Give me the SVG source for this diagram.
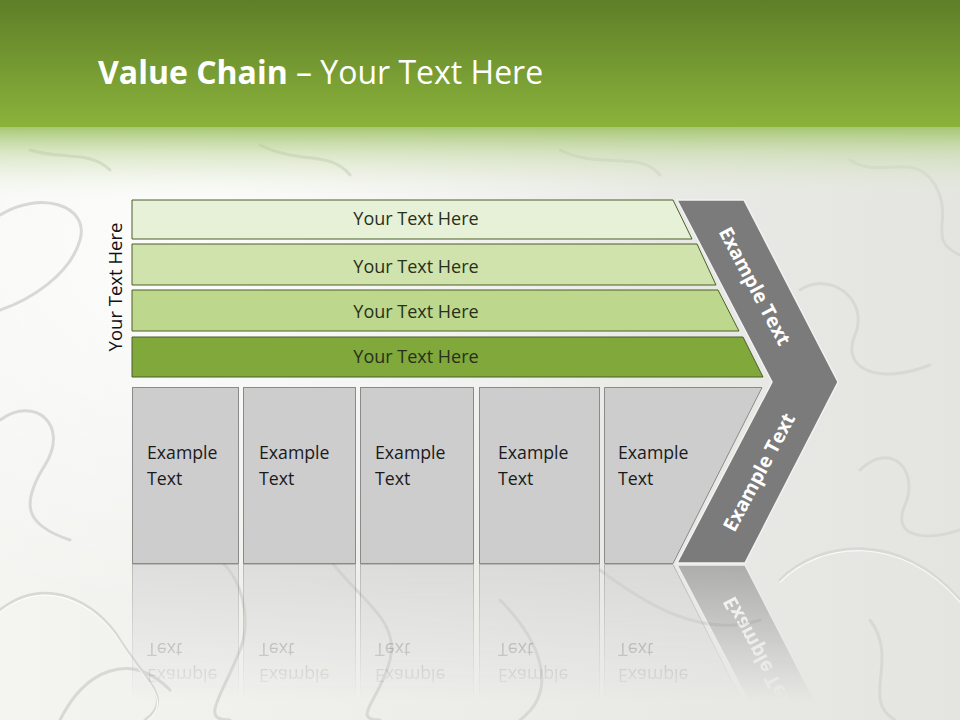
<svg xmlns="http://www.w3.org/2000/svg" xmlns:xlink="http://www.w3.org/1999/xlink" width="960" height="720" viewBox="0 0 960 720">
  <defs>
    <linearGradient id="hdr" x1="0" y1="0" x2="0" y2="1">
      <stop offset="0" stop-color="#5f7e28"/>
      <stop offset="1" stop-color="#8ab33b"/>
    </linearGradient>
    <linearGradient id="hdrFade" x1="0" y1="0" x2="0" y2="1">
      <stop offset="0" stop-color="#a3c56c" stop-opacity="0.95"/>
      <stop offset="0.35" stop-color="#c3d9a0" stop-opacity="0.6"/>
      <stop offset="1" stop-color="#e8efde" stop-opacity="0"/>
    </linearGradient>
    <linearGradient id="bg" x1="0" y1="0" x2="1" y2="0">
      <stop offset="0" stop-color="#f4f5f1"/>
      <stop offset="0.45" stop-color="#ededea"/>
      <stop offset="1" stop-color="#e4e5e1"/>
    </linearGradient>
    <radialGradient id="glow" cx="0.2" cy="0.35" r="0.5">
      <stop offset="0" stop-color="#ffffff" stop-opacity="0.85"/>
      <stop offset="1" stop-color="#ffffff" stop-opacity="0"/>
    </radialGradient>
    <linearGradient id="fadeGrad" x1="0" y1="564" x2="0" y2="700" gradientUnits="userSpaceOnUse">
      <stop offset="0" stop-color="#ffffff" stop-opacity="0.55"/>
      <stop offset="1" stop-color="#ffffff" stop-opacity="0"/>
    </linearGradient>
    <mask id="fade" maskUnits="userSpaceOnUse" x="0" y="564" width="960" height="156">
      <rect x="0" y="564" width="960" height="156" fill="url(#fadeGrad)"/>
    </mask>
    <style>
      .title { font-family: "Open Sans", "Liberation Sans", sans-serif; font-size: 32px; fill: #ffffff; }
      .bar { stroke: #4b5f2b; stroke-width: 1; }
      .barTxt { font-family: "Open Sans", "Liberation Sans", sans-serif; font-size: 18px; fill: #27301c; text-anchor: middle; }
      .box { fill: #cdcdce; stroke: #8a8a8a; stroke-width: 1; }
      .boxTxt { font-family: "Open Sans", "Liberation Sans", sans-serif; font-size: 17.7px; fill: #1a1a1a; }
      .chev { fill: #7b7b7b; stroke: #f2f2f2; stroke-width: 1.5; }
      .chevTxt { font-family: "Open Sans", "Liberation Sans", sans-serif; font-size: 19.5px; font-weight: bold; fill: #ffffff; text-anchor: middle; }
      .side { font-family: "Open Sans", "Liberation Sans", sans-serif; font-size: 18.5px; fill: #111111; text-anchor: middle; }
      .pz { fill: none; stroke: #d8d9d4; stroke-width: 3; stroke-linecap: round; }
      .pzHi { fill: none; stroke: #ffffff; stroke-width: 1.2; stroke-linecap: round; opacity: 0.8; }
    </style>
  </defs>

  <!-- background -->
  <rect x="0" y="0" width="960" height="720" fill="url(#bg)"/>
  <rect x="0" y="0" width="960" height="720" fill="url(#glow)"/>

  <!-- puzzle pattern -->
  <g id="puzzle">
    <path class="pz" d="M0,215 C40,190 90,205 80,240 S30,300 0,310"/>
    <path class="pz" d="M0,420 C35,395 70,425 45,465 S25,525 70,540"/>
    <path class="pz" d="M0,610 C45,575 95,600 120,640 S175,700 145,720"/>
    <path class="pz" d="M60,720 C85,670 130,650 170,690"/>
    <path class="pz" d="M160,560 C220,520 260,600 240,650 S200,720 230,720"/>
    <path class="pz" d="M330,560 C360,600 400,620 390,660 S350,720 380,720"/>
    <path class="pz" d="M500,600 C540,640 560,690 520,720"/>
    <path class="pz" d="M600,570 C640,600 700,640 760,620"/>
    <path class="pz" d="M780,580 C820,540 900,530 960,600"/>
    <path class="pz" d="M870,620 C900,660 860,700 895,720"/>
    <path class="pz" d="M800,290 C830,270 870,300 855,335 S880,385 930,365"/>
    <path class="pz" d="M850,160 C880,180 915,150 935,185 S925,240 960,255"/>
    <path class="pz" d="M860,470 C890,440 920,470 905,505 S930,540 960,530"/>
    <path class="pz" d="M560,150 C600,170 640,150 660,175"/>
    <path class="pz" d="M260,145 C300,165 330,150 350,175"/>
    <path class="pz" d="M30,150 C60,160 90,150 110,170"/>
    <path class="pzHi" d="M0,612 C45,577 95,602 120,642 S175,702 145,722"/>
    <path class="pzHi" d="M780,582 C820,542 900,532 960,602"/>
  </g>

  <!-- header -->
  <rect x="0" y="0" width="960" height="127" fill="url(#hdr)"/>
  <rect x="0" y="127" width="960" height="70" fill="url(#hdrFade)"/>
  <text class="title" x="98" y="84"><tspan font-weight="bold">Value Chain</tspan> – Your Text Here</text>

  <!-- side label -->
  <text class="side" transform="translate(122,287) rotate(-90)">Your Text Here</text>

  <!-- support bars -->
  <g id="bar1">
    <polygon class="bar" fill="#e7f1d8" points="132,200 673,200 692,239 132,239"/>
    <text class="barTxt" x="416" y="225">Your Text Here</text>
  </g>
  <g id="bar2">
    <polygon class="bar" fill="#d1e3ac" points="132,244 697,244 716,285 132,285"/>
    <text class="barTxt" x="416" y="273">Your Text Here</text>
  </g>
  <g id="bar3">
    <polygon class="bar" fill="#bdd78c" points="132,290 718,290 739,331 132,331"/>
    <text class="barTxt" x="416" y="318">Your Text Here</text>
  </g>
  <g id="bar4">
    <polygon class="bar" fill="#80a83a" points="132,337 743,337 763,377 132,377"/>
    <text class="barTxt" x="416" y="363">Your Text Here</text>
  </g>

  <!-- primary activities + chevron (reused for reflection) -->
  <g id="lower">
    <g id="box1">
      <rect class="box" x="132.5" y="387.5" width="106" height="176"/>
      <text class="boxTxt" x="147" y="459">Example<tspan x="147" y="485">Text</tspan></text>
    </g>
    <g id="box2">
      <rect class="box" x="243.5" y="387.5" width="112" height="176"/>
      <text class="boxTxt" x="259" y="459">Example<tspan x="259" y="485">Text</tspan></text>
    </g>
    <g id="box3">
      <rect class="box" x="360.5" y="387.5" width="113" height="176"/>
      <text class="boxTxt" x="375" y="459">Example<tspan x="375" y="485">Text</tspan></text>
    </g>
    <g id="box4">
      <rect class="box" x="479.5" y="387.5" width="120" height="176"/>
      <text class="boxTxt" x="498" y="459">Example<tspan x="498" y="485">Text</tspan></text>
    </g>
    <g id="box5">
      <polygon class="box" points="604.5,387.5 762,387.5 673,563.5 604.5,563.5"/>
      <text class="boxTxt" x="618" y="459">Example<tspan x="618" y="485">Text</tspan></text>
    </g>
    <g id="chevron">
      <polygon class="chev" points="677,200 744,200 838,382 745,563 677,563 772,382"/>
      <text class="chevTxt" transform="translate(755,286) rotate(62)" dy="7">Example Text</text>
      <text class="chevTxt" transform="translate(759,472) rotate(-62)" dy="7">Example Text</text>
    </g>
  </g>

  <!-- reflection -->
  <g mask="url(#fade)">
    <use xlink:href="#lower" href="#lower" transform="translate(0,1128) scale(1,-1)"/>
  </g>
</svg>
